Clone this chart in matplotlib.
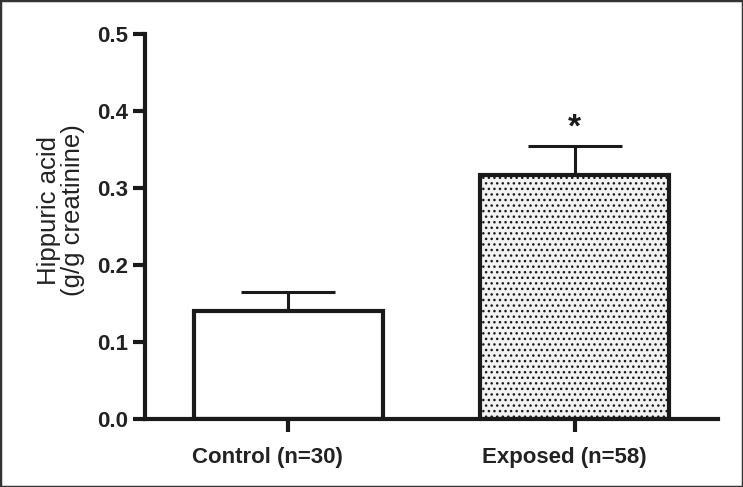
import matplotlib
matplotlib.use("Agg")
import matplotlib.pyplot as plt
from matplotlib.patches import Rectangle

categories = ["Control (n=30)", "Exposed (n=58)"]
means = [0.140, 0.317]
sem = [0.025, 0.038]
yticks = [0.0, 0.1, 0.2, 0.3, 0.4, 0.5]

plt.rcParams['font.family'] = ['Liberation Sans', 'DejaVu Sans']
plt.rcParams['hatch.color'] = '#444444'
plt.rcParams['hatch.linewidth'] = 1.0

fig = plt.figure(figsize=(7.43, 4.87), dpi=100)
ax = fig.add_axes([0.195, 0.1396, 0.771, 0.7904])

x = list(range(len(categories)))
faces = ["white", "#f2f2f2"]
hatches = [None, "..."]
for xi, m, fc, h in zip(x, means, faces, hatches):
    ax.bar(xi, m, width=0.66, color=fc, edgecolor="#1a1a1a", linewidth=3, hatch=h, zorder=2)

ax.errorbar(x, means, yerr=[[0] * len(means), sem], fmt='none', ecolor="#1a1a1a",
            elinewidth=2.2, capsize=34, capthick=2.2, zorder=1)

ax.text(1, 0.378, "*", ha="center", va="center", fontsize=24, fontweight="bold", color="#1a1a1a")

ax.set_xlim(-0.5, 1.5)
ax.set_ylim(0, 0.5)
ax.set_yticks(yticks)
ax.set_yticklabels([f"{t:.1f}" for t in yticks])
ax.set_xticks(x)
ax.set_xticklabels([""] * len(x))

# category labels (slightly offset to the left, as in the original)
label_offsets = [-15, -7]
for xi, cat, off in zip(x, categories, label_offsets):
    ax.annotate(cat, xy=(xi, 0), xycoords=ax.get_xaxis_transform(),
                xytext=(off, -20), textcoords="offset points",
                ha="center", va="top", fontsize=16, fontweight="bold", color="#222222",
                annotation_clip=False)

for s in ["top", "right"]:
    ax.spines[s].set_visible(False)
for s in ["left", "bottom"]:
    ax.spines[s].set_linewidth(3)
    ax.spines[s].set_color("#1a1a1a")

ax.tick_params(axis="both", direction="out", length=9, width=3, color="#1a1a1a")
for lab in ax.get_yticklabels():
    lab.set_fontsize(16)
    lab.set_fontweight("bold")
    lab.set_color("#222222")
ax.tick_params(axis="y", pad=3)

ax.set_ylabel("Hippuric acid\n(g/g creatinine)", fontsize=18.5, color="#222222", linespacing=1.0)
ax.yaxis.set_label_coords(-0.105, 0.543)

fig.patches.append(Rectangle((0, 0), 1, 1, transform=fig.transFigure, fill=False,
                             edgecolor="#333333", linewidth=2.5))

fig.savefig("out.png", dpi=100)
